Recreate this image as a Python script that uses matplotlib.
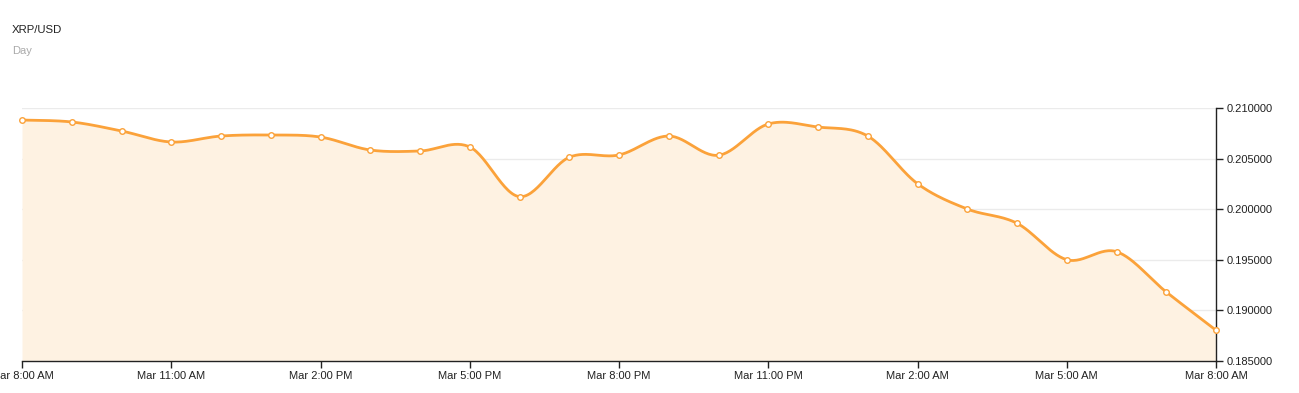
"""
plot.py — XRP/USD, vista diaria (precio por hora)
"""
import numpy as np
import matplotlib
matplotlib.use("Agg")
import matplotlib.pyplot as plt

# Datos (una lectura por hora, 25 puntos)
horas = list(range(25))
precios = [0.20881, 0.20862, 0.20773, 0.20664, 0.20723, 0.20733, 0.20713,
           0.20585, 0.20575, 0.20615, 0.20124, 0.20513, 0.20536, 0.20723,
           0.20533, 0.20842, 0.20812, 0.20723, 0.20252, 0.20002, 0.19861,
           0.19501, 0.19580, 0.19182, 0.18804]

ticks_x = [0, 3, 6, 9, 12, 15, 18, 21, 24]
etiquetas_x = ["Mar 8:00 AM", "Mar 11:00 AM", "Mar 2:00 PM", "Mar 5:00 PM",
               "Mar 8:00 PM", "Mar 11:00 PM", "Mar 2:00 AM", "Mar 5:00 AM",
               "Mar 8:00 AM"]
ticks_y = [0.185, 0.190, 0.195, 0.200, 0.205, 0.210]

NARANJA = "#fba23a"
RELLENO = "#fef2e2"


def _catmull_rom(x, y, n=30):
    """Curva suave que pasa por todos los puntos (como curveCardinal de d3)."""
    x = np.asarray(x, float); y = np.asarray(y, float)
    px = np.concatenate([[x[0]], x, [x[-1]]])
    py = np.concatenate([[y[0]], y, [y[-1]]])
    xs, ys = [], []
    t = np.linspace(0, 1, n, endpoint=False)
    for i in range(1, len(px) - 2):
        p0, p1, p2, p3 = py[i - 1], py[i], py[i + 1], py[i + 2]
        q0, q1, q2, q3 = px[i - 1], px[i], px[i + 1], px[i + 2]
        def cr(a, b, c, d):
            return 0.5 * (2 * b + (-a + c) * t + (2 * a - 5 * b + 4 * c - d) * t ** 2
                          + (-a + 3 * b - 3 * c + d) * t ** 3)
        xs.append(cr(q0, q1, q2, q3)); ys.append(cr(p0, p1, p2, p3))
    xs.append([x[-1]]); ys.append([y[-1]])
    return np.concatenate(xs), np.concatenate(ys)


plt.rcParams["font.family"] = ["Liberation Sans", "DejaVu Sans"]

fig = plt.figure(figsize=(12.99, 3.93), dpi=100)
ax = fig.add_axes([22 / 1299, 32 / 393, 1194 / 1299, 253 / 393])

cx, cy = _catmull_rom(horas, precios)
ax.fill_between(cx, cy, 0.185, color=RELLENO, linewidth=0, zorder=1)
ax.plot(cx, cy, color=NARANJA, linewidth=2, zorder=3)
ax.plot(horas, precios, linestyle="none", marker="o", markersize=4,
        markerfacecolor="white", markeredgecolor=NARANJA, markeredgewidth=1,
        zorder=4, clip_on=False)

ax.set_xlim(0, 24)
ax.set_ylim(0.185, 0.210)
ax.set_xticks(ticks_x)
ax.set_xticklabels(etiquetas_x)
ax.set_yticks(ticks_y)
ax.set_yticklabels([f"{v:.6f}" for v in ticks_y])
ax.yaxis.tick_right()
ax.tick_params(axis="both", labelsize=8, colors="#222222", length=5,
               width=1, pad=2)
ax.tick_params(axis="y", pad=3)

for lado in ["top", "left"]:
    ax.spines[lado].set_visible(False)
for lado in ["right", "bottom"]:
    ax.spines[lado].set_color("#222222")
    ax.spines[lado].set_linewidth(1)

ax.grid(True, axis="y", color="#ebebeb", linewidth=1, zorder=0)
ax.set_axisbelow(True)

fig.text(12 / 1299, 1 - 30 / 393, "XRP/USD", fontsize=8.2, color="#222222",
         va="center")
fig.text(12 / 1299, 1 - 51 / 393, "Day", fontsize=8, color="#aaaaaa",
         va="center")

fig.savefig("out.png", dpi=100)
plt.close(fig)
